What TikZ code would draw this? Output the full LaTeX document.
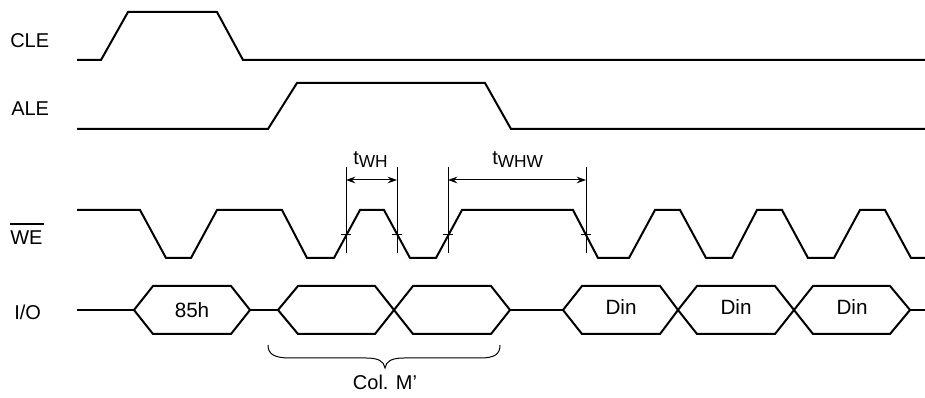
\documentclass[tikz,border=0pt]{standalone}
\usepackage{fontspec}
\setmainfont{Liberation Sans}
\usetikzlibrary{arrows.meta}
\begin{document}
\begin{tikzpicture}[x=0.75pt,y=-0.75pt,
  sig/.style={line width=1.5pt},
  thin/.style={line width=0.75pt},
  lbl/.style={anchor=base west,inner sep=0pt,font=\fontsize{15pt}{18pt}\selectfont},
  hextxt/.style={anchor=base,inner sep=0pt,font=\fontsize{15.5pt}{18pt}\selectfont},
  dim/.style={thin,{Stealth[length=7pt,width=5pt,inset=2.5pt]}-{Stealth[length=7pt,width=5pt,inset=2.5pt]}}]
\useasboundingbox (0,0) rectangle (925,398);

% labels
\node[lbl] (cle) at (10,48) {CLE};
\node[lbl] (ale) at (11,116) {ALE};
\node[lbl] (we) at (10,245) {WE};
\draw[line width=0.9pt] (10,224) -- (44,224);
\node[lbl] (io) at (14,320) {I/O};

% CLE
\draw[sig] (77,60) -- (101,60) -- (128,12) -- (217,12) -- (243,60) -- (925,60);
% ALE
\draw[sig] (77,129) -- (268,129) -- (297,83) -- (485,83) -- (511,129) -- (925,129);
% WE
\draw[sig] (77,210) -- (140,210) -- (166,258) -- (191,258) -- (217,210) -- (282,210)
  -- (307,258) -- (334,258) -- (360,210) -- (384,210) -- (410,258) -- (436,258)
  -- (462,210) -- (573,210) -- (598,258) -- (629,258) -- (655,210) -- (680,210)
  -- (706,258) -- (732,258) -- (757,210) -- (782,210) -- (808,258) -- (834,258)
  -- (860,210) -- (885,210) -- (911,258) -- (925,258);

% timing markers
\foreach \n/\x in {a/346,b/397,c/448,d/586}{
  \coordinate (m\n top) at (\x,167);
  \coordinate (m\n bot) at (\x,253);
  \coordinate (m\n) at (\x,180);
  \draw[thin] (m\n top) -- (m\n bot);
  \draw[thin] (\x-5,235) -- (\x+5,235);
}
\draw[dim] (ma) -- (mb);
\draw[dim] (mc) -- (md);
\node[anchor=base west,inner sep=0pt,font=\fontsize{15pt}{18pt}\selectfont] (twh) at (353,165)
  {t\raisebox{-1.8pt}{\fontsize{13pt}{15pt}\selectfont WH}};
\node[anchor=base west,inner sep=0pt,font=\fontsize{15pt}{18pt}\selectfont] (twhw) at (492,165)
  {t\raisebox{-1.8pt}{\fontsize{13pt}{15pt}\selectfont WHW}};

% I/O
\draw[sig] (77,310) -- (134,310);
\draw[sig] (134,310) -- (153,286) -- (231,286) -- (250,310) -- (231,334) -- (153,334) -- cycle;
\draw[sig] (250,310) -- (278,310);
\draw[sig] (278,310) -- (298,286) -- (375,286) -- (394,310) -- (375,334) -- (298,334) -- cycle;
\draw[sig] (394,310) -- (413,286) -- (491,286) -- (510,310) -- (491,334) -- (413,334) -- cycle;
\draw[sig] (510,310) -- (563,310);
\draw[sig] (563,310) -- (582,286) -- (660,286) -- (678,310) -- (660,334) -- (582,334) -- cycle;
\draw[sig] (678,310) -- (697,286) -- (775,286) -- (794,310) -- (775,334) -- (697,334) -- cycle;
\draw[sig] (794,310) -- (813,286) -- (890,286) -- (910,310) -- (890,334) -- (813,334) -- cycle;
\draw[sig] (910,310) -- (925,310);

\node[hextxt] (h85) at (192,318) {85h};
\node[hextxt] (din1) at (621,315) {Din};
\node[hextxt] (din2) at (736,315) {Din};
\node[hextxt] (din3) at (852,315) {Din};

% brace
\draw[thin] (268,345) .. controls (268,354) and (274,358) .. (290,358) -- (366,358)
  .. controls (378,358) and (384,361) .. (385,368)
  .. controls (386,361) and (392,358) .. (404,358) -- (480,358)
  .. controls (495,358) and (500,354) .. (500,345);
\node[anchor=base,inner sep=0pt,font=\fontsize{15pt}{18pt}\selectfont] (col) at (385,390) {Col. M’};
\end{tikzpicture}
\end{document}
